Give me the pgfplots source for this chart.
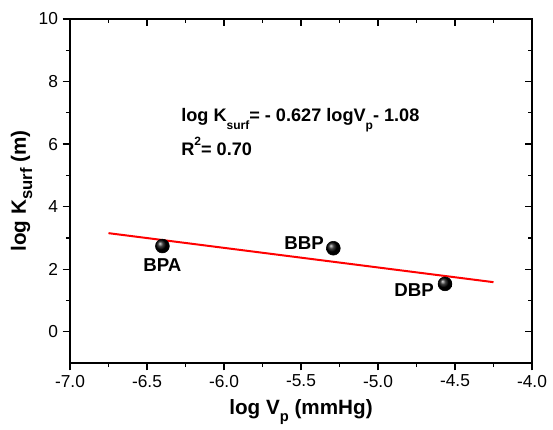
\documentclass[border=0pt]{standalone}
\usepackage{pgfplots}
\pgfplotsset{compat=1.18}
\usepackage{fontspec}
\setmainfont{Liberation Sans}
\begin{document}
\begin{tikzpicture}
\pgfplotsset{
  base/.style={
    scale only axis, width=346.5pt, height=258pt,
    xmin=-7, xmax=-4, ymin=-1, ymax=10,
    xtick={-7,-6.5,...,-4}, ytick={0,2,...,10},
    minor x tick num=1, minor y tick num=1,
    axis line style={line width=1.1pt},
    major tick length=5.5pt, minor tick length=3pt,
    every tick/.append style={black, line width=0.9pt},
  }
}
\begin{axis}[base,
    tick align=outside, xtick pos=left, ytick pos=left,
    /pgf/number format/assume math mode=true,
    xticklabel style={font=\fontsize{13}{15}\selectfont, /pgf/number format/.cd, fixed, fixed zerofill, precision=1},
    yticklabel style={font=\fontsize{13}{15}\selectfont},
    xlabel={\textbf{log V\raisebox{-0.35em}{\fontsize{11}{11}\selectfont p} (mmHg)}},
    ylabel={\textbf{log K\raisebox{-0.3em}{\fontsize{12.5}{12.5}\selectfont surf} (m)}},
    xlabel style={font=\fontsize{15.5}{17}\selectfont, yshift=-2pt},
    ylabel style={font=\fontsize{15.5}{17}\selectfont, yshift=-2pt},
    clip=false,
  ]
  \addplot[red, line width=1.5pt] coordinates {(-6.75,3.152) (-4.25,1.585)};
  \addplot[only marks, mark=ball, ball color=black, mark size=5.2pt] coordinates {
    (-6.40,2.74) (-5.29,2.67) (-4.565,1.53)};
  \node[font=\bfseries\fontsize{14}{15}\selectfont] at (axis cs:-6.40,2.13) {BPA};
  \node[font=\bfseries\fontsize{14}{15}\selectfont] at (axis cs:-5.48,2.84) {BBP};
  \node[font=\bfseries\fontsize{14}{15}\selectfont] at (axis cs:-4.766,1.33) {DBP};
  \node[anchor=base west, font=\bfseries\fontsize{13.6}{15}\selectfont, inner sep=0pt] at (axis cs:-6.279,6.717)
    {log K\raisebox{-0.45em}{\fontsize{9}{9}\selectfont surf}= - 0.627 logV\raisebox{-0.45em}{\fontsize{9}{9}\selectfont p}- 1.08};
  \node[anchor=base west, font=\bfseries\fontsize{13.6}{15}\selectfont, inner sep=0pt] at (axis cs:-6.279,5.65)
    {R\raisebox{0.5em}{\fontsize{9}{9}\selectfont 2}= 0.70};
\end{axis}
\begin{axis}[base,
    tick align=inside, xtick pos=right, ytick pos=right,
    xticklabels={}, yticklabels={},
  ]
\end{axis}
\pgfresetboundingbox
\path[use as bounding box] (current axis.south west) ++(-52.5pt,-49.5pt) rectangle ([shift={(15.75pt,14.25pt)}]current axis.north east);
\end{tikzpicture}
\end{document}
